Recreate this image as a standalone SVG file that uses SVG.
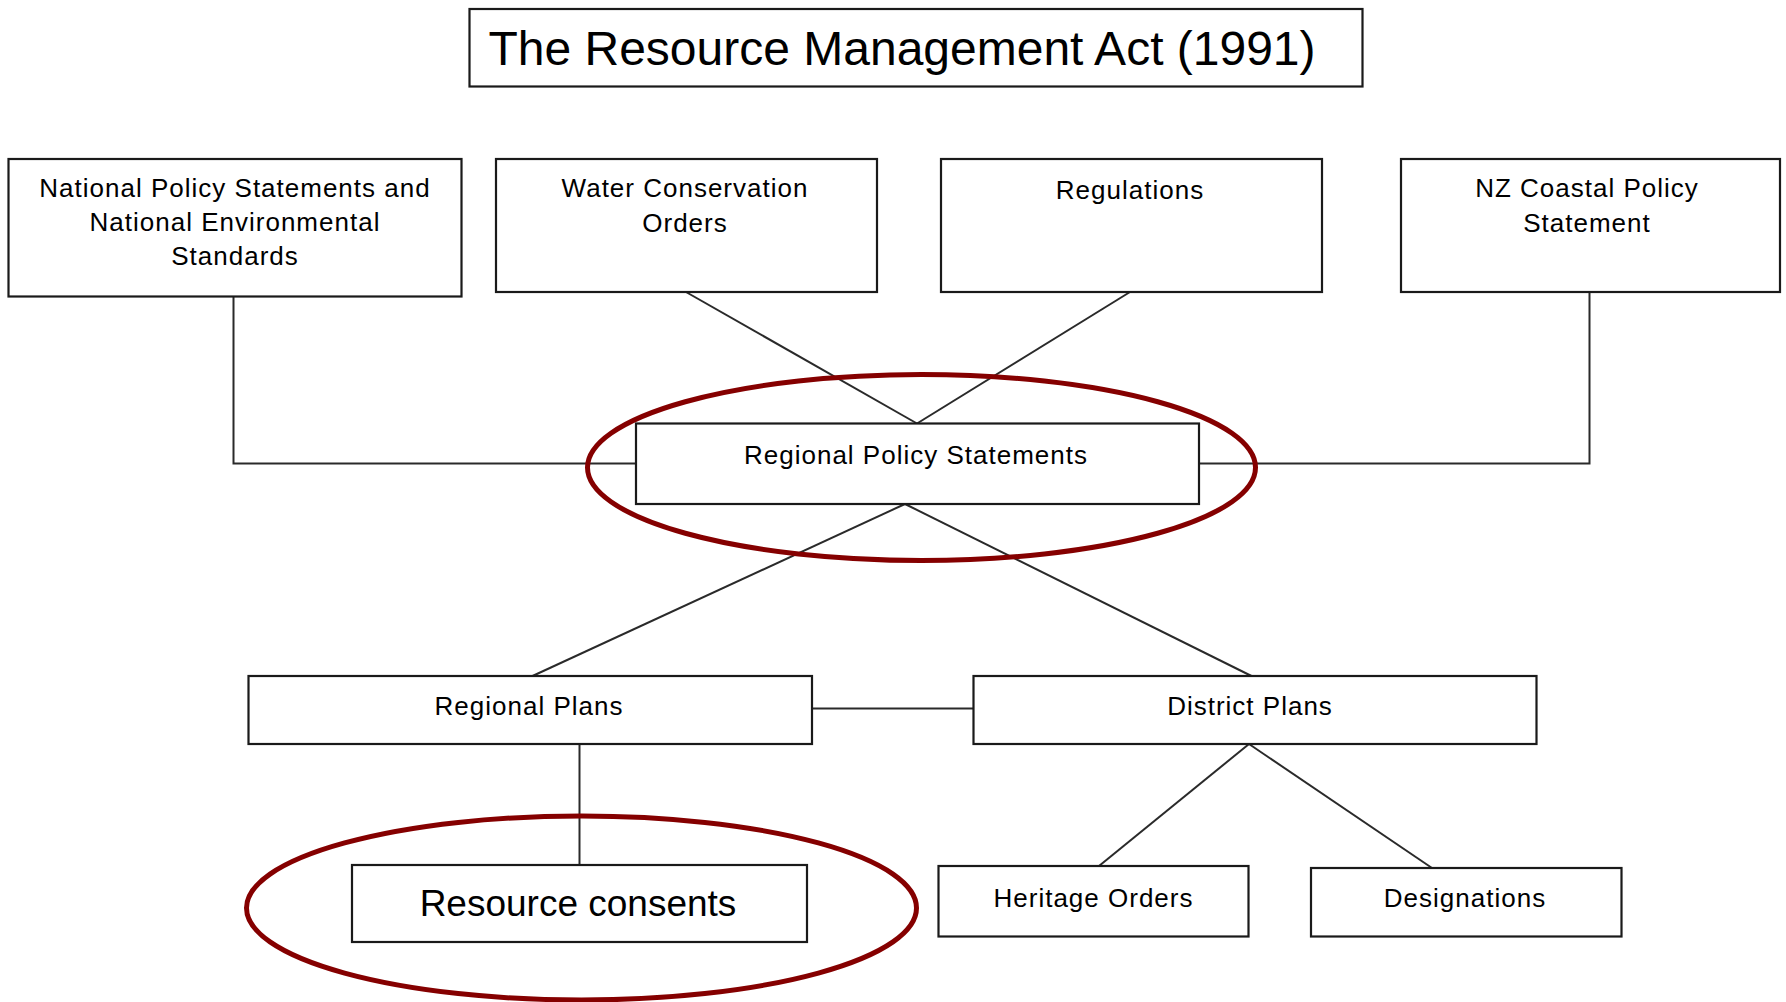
<svg xmlns="http://www.w3.org/2000/svg" width="1786" height="1002" viewBox="0 0 1786 1002">
<style>
.box{fill:#fff;stroke:#1a1a1a;stroke-width:2.2}
.t{font-family:"Liberation Sans",Arial,sans-serif;font-size:26px;letter-spacing:1px;fill:#000;text-anchor:middle}
.big{font-family:"Liberation Sans",Arial,sans-serif;fill:#000;text-anchor:middle}
.c{fill:none;stroke:#2a2a2a;stroke-width:2}
.ring{fill:none;stroke:#850000;stroke-width:5}
</style>
<rect width="1786" height="1002" fill="#fff"/>
<g id="connectors">
<polyline class="c" points="233.5,297 233.5,463.5 636,463.5"/>
<polyline class="c" points="1589.5,292 1589.5,463.5 1199,463.5"/>
<line class="c" x1="686" y1="292" x2="917" y2="423.5"/>
<line class="c" x1="1130" y1="292" x2="917" y2="423.5"/>
<line class="c" x1="905" y1="504" x2="532.5" y2="676"/>
<line class="c" x1="905" y1="504" x2="1251.5" y2="676"/>
<line class="c" x1="812" y1="708.5" x2="973.5" y2="708.5"/>
<line class="c" x1="579.5" y1="744" x2="579.5" y2="865"/>
<line class="c" x1="1249" y1="744" x2="1099" y2="866"/>
<line class="c" x1="1249" y1="744" x2="1432" y2="868"/>
</g>
<g id="title">
<rect class="box" x="469.5" y="9" width="893" height="77.5"/>
<text class="big" x="902" y="64.5" font-size="48">The Resource Management Act (1991)</text>
</g>
<g id="nps">
<rect class="box" x="8.5" y="159" width="453" height="137.5"/>
<text class="t" x="235" y="196.5">National Policy Statements and</text>
<text class="t" x="235" y="230.5">National Environmental</text>
<text class="t" x="235" y="264.5">Standards</text>
</g>
<g id="wco">
<rect class="box" x="496" y="159" width="381" height="133"/>
<text class="t" x="685" y="196.5">Water Conservation</text>
<text class="t" x="685" y="231.5">Orders</text>
</g>
<g id="regulations">
<rect class="box" x="941" y="159" width="381" height="133"/>
<text class="t" x="1130" y="199">Regulations</text>
</g>
<g id="nzcps">
<rect class="box" x="1401" y="159" width="379" height="133"/>
<text class="t" x="1587" y="196.5">NZ Coastal Policy</text>
<text class="t" x="1587" y="231.5">Statement</text>
</g>
<g id="rps">
<rect class="box" x="636" y="423.5" width="563" height="80.5"/>
<text class="t" x="916" y="464">Regional Policy Statements</text>
</g>
<g id="regional-plans">
<rect class="box" x="248.5" y="676" width="563.5" height="68"/>
<text class="t" x="529" y="715">Regional Plans</text>
</g>
<g id="district-plans">
<rect class="box" x="973.5" y="676" width="563" height="68"/>
<text class="t" x="1250" y="715">District Plans</text>
</g>
<g id="resource-consents">
<rect class="box" x="352" y="865" width="455" height="77"/>
<text class="big" x="578" y="916" font-size="37">Resource consents</text>
</g>
<g id="heritage-orders">
<rect class="box" x="938.5" y="866" width="310" height="70.5"/>
<text class="t" x="1093.5" y="906.5">Heritage Orders</text>
</g>
<g id="designations">
<rect class="box" x="1311" y="868" width="310.5" height="68.5"/>
<text class="t" x="1465" y="906.5">Designations</text>
</g>
<g id="highlights">
<ellipse class="ring" cx="921.5" cy="467.5" rx="334" ry="93"/>
<ellipse class="ring" cx="581.5" cy="908" rx="335" ry="92"/>
</g>
</svg>
